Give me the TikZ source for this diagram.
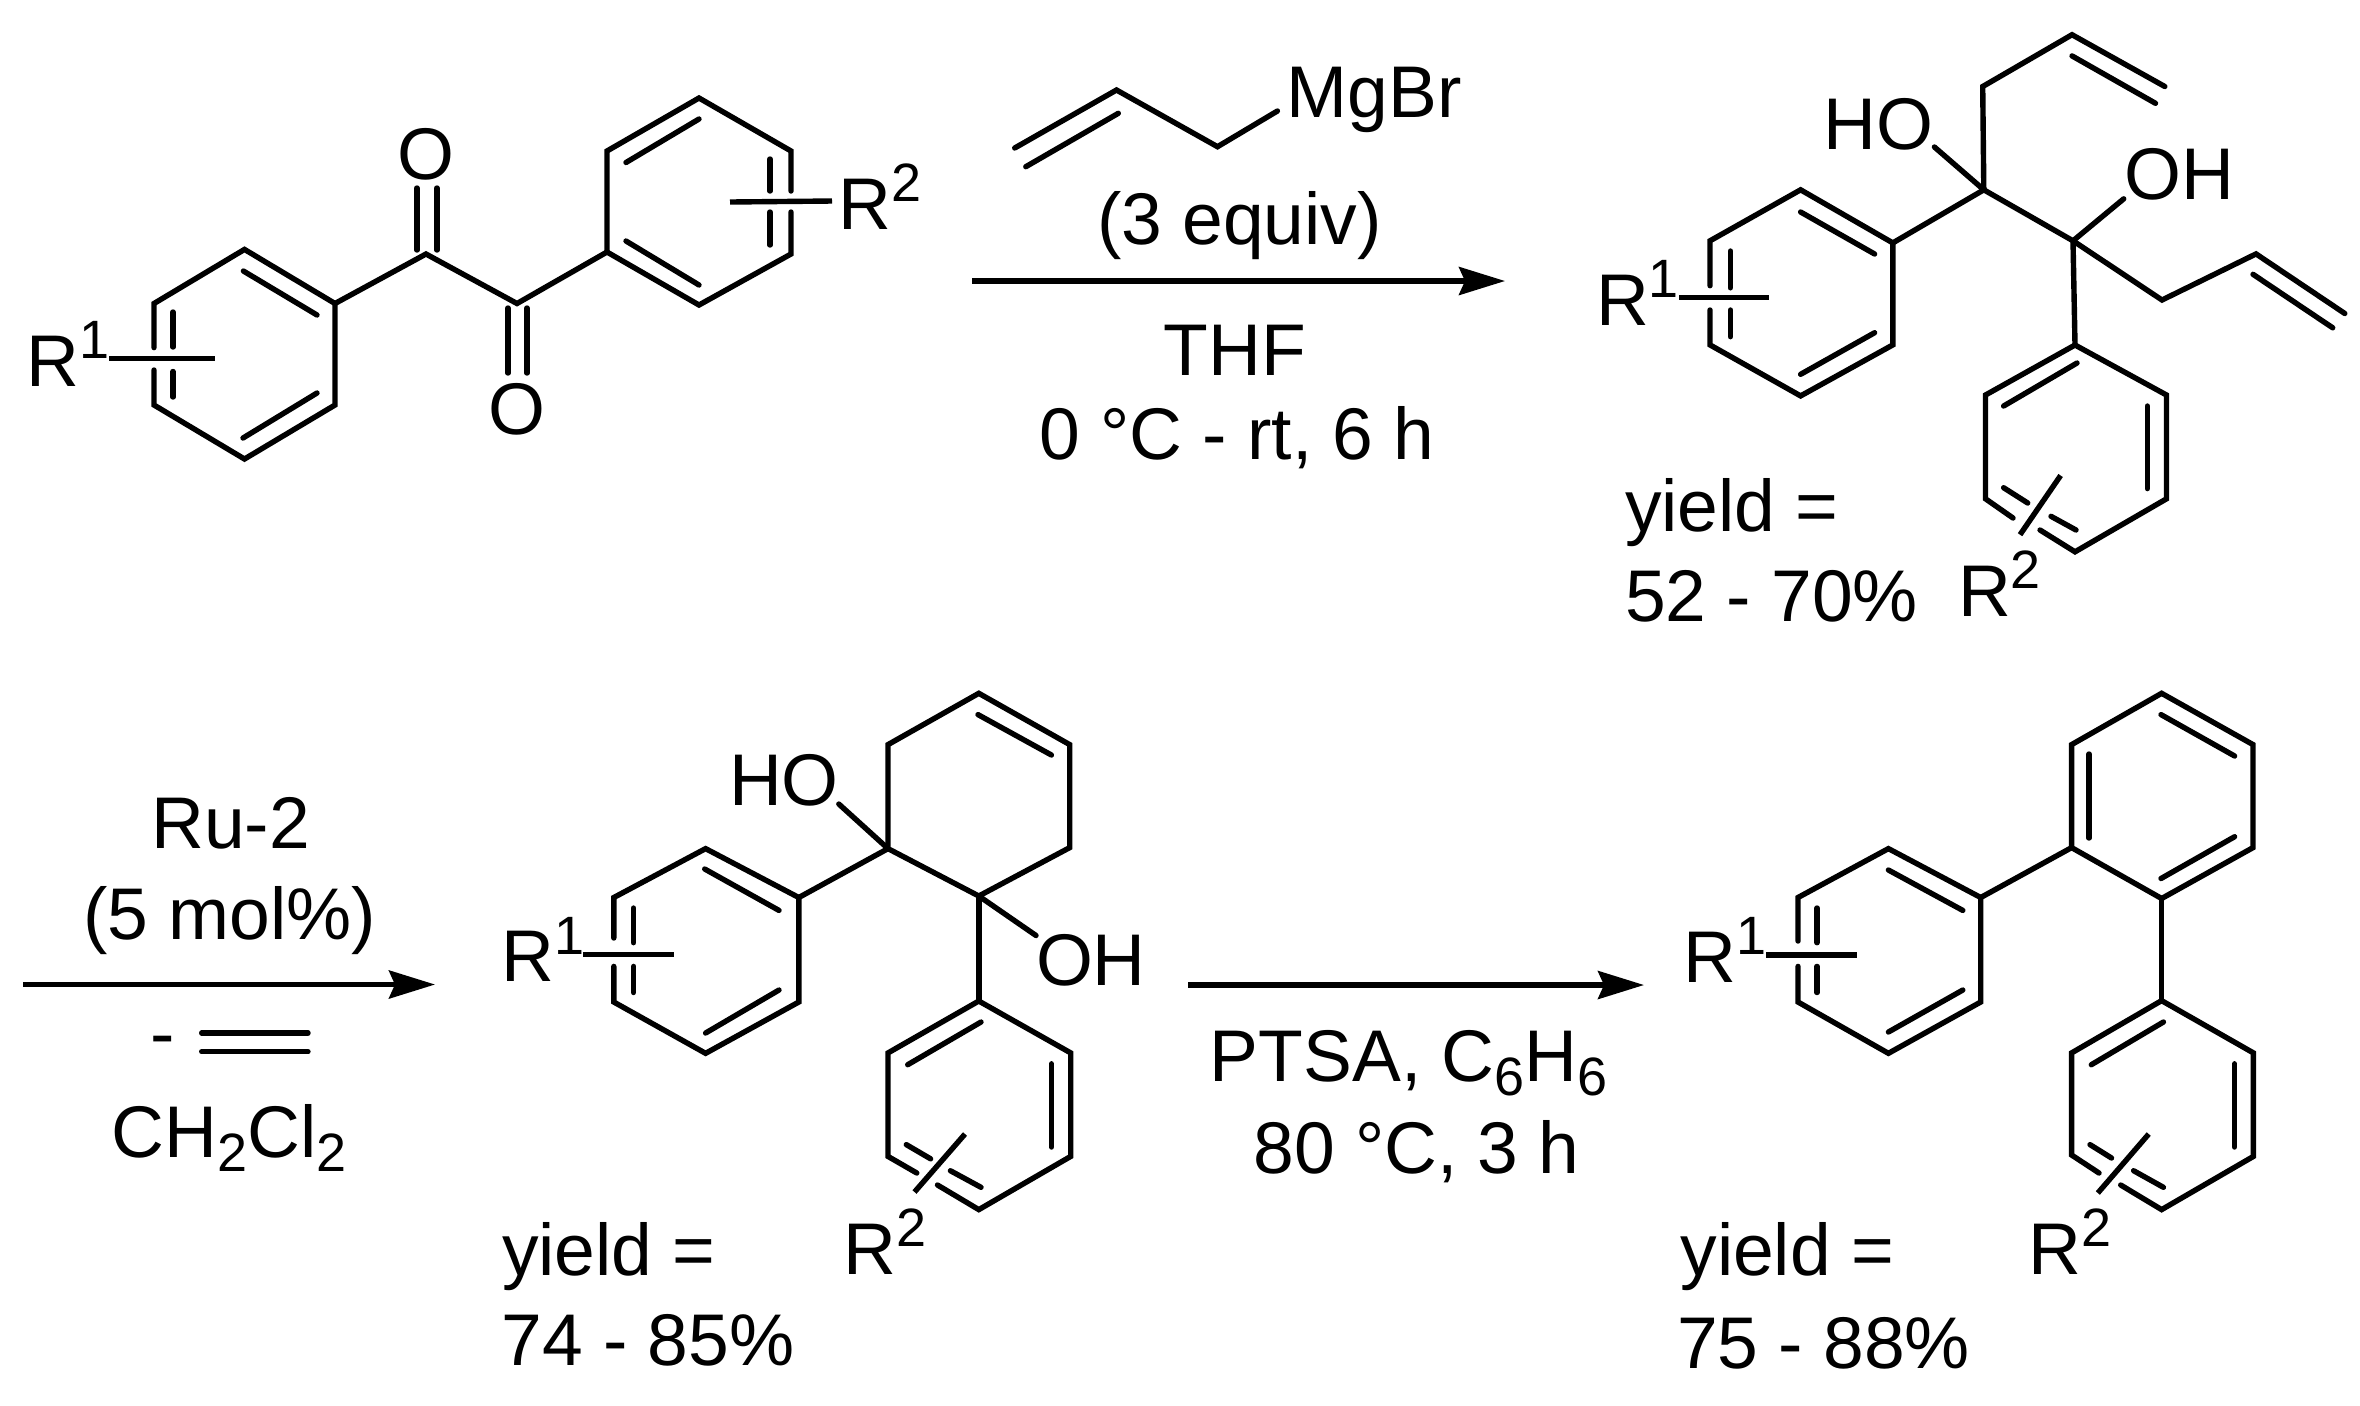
\documentclass[tikz,border=0pt]{standalone}
\usepackage{fontspec}
\setmainfont{Liberation Sans}
\usetikzlibrary{arrows.meta}
\newcommand\supn[1]{\raisebox{13.7pt}{\fontsize{27pt}{28pt}\selectfont #1}}
\newcommand\subn[1]{\raisebox{-7pt}{\fontsize{27pt}{28pt}\selectfont #1}}
\tikzset{
  bond/.style={line width=2.7pt,line cap=round,line join=miter,miter limit=10},
  rxn/.style={line width=2.6pt,-{Stealth[length=23pt,width=14pt,inset=3pt]}},
  lab/.style={inner sep=0pt,outer sep=0pt,anchor=base west,font=\fontsize{36.6pt}{40pt}\selectfont},
  ctr/.style={inner sep=0pt,outer sep=0pt,anchor=base,font=\fontsize{36.6pt}{40pt}\selectfont}
}
\begin{document}
\begin{tikzpicture}[x=0.5pt,y=-0.5pt]
\useasboundingbox[fill=white] (0,0) rectangle (2360,1405);
% ---------- starting diketone
\draw[bond] (154,347.6) -- (154,303.5) -- (244.5,249.4) -- (335,303.5) -- (335,405) -- (244.5,459) -- (154,405) -- (154,370);
\draw[bond] (243.4,271) -- (317,315);
\draw[bond] (317,393) -- (243,438);
\draw[bond] (173,312) -- (173,347);
\draw[bond] (173,371.5) -- (173,397);
\draw[bond] (335,303.5) -- (426,254) -- (517,303.5) -- (607,252);
\draw[bond] (417,188) -- (417,250);
\draw[bond] (437,188) -- (437,250);
\draw[bond] (508,308) -- (508,373);
\draw[bond] (527,308) -- (527,373);
\draw[bond] (791,191) -- (791,151) -- (699,98) -- (607,151) -- (607,252) -- (699,305) -- (791,254) -- (791,212);
\draw[bond] (699,119) -- (626,162.5);
\draw[bond] (626,241) -- (699,285);
\draw[bond] (770,159) -- (770,191);
\draw[bond] (770,212) -- (770,245);
\draw[bond,line cap=butt] (109,358.5) -- (215,358.5);
\draw[bond,line cap=butt] (730,202) -- (832,201);
\node[ctr] (smOa) at (426,179) {O};
\node[ctr] (smOb) at (517,434) {O};
\node[lab] (smRa) at (26.5,386) {R\supn{1}};
\node[lab] (smRb) at (838.5,229) {R\supn{2}};
% ---------- first arrow
\coordinate (a1s) at (972.2,281);
\coordinate (a1e) at (1505,281);
\draw[rxn] (a1s) -- (a1e);
\draw[bond] (1014.7,148) -- (1116.5,90) -- (1217.5,146.7) -- (1277.4,111);
\draw[bond] (1025.8,166.7) -- (1118.3,113.3);
\node[lab] (mgbr) at (1286.5,117) {MgBr};
\node[ctr] (equiv) at (1239.5,244) {(3 equiv)};
\node[ctr] (thf) at (1235,375) {THF};
\node[ctr] (cond1) at (1237,459) {0 °C - rt, 6 h};
% ---------- diol
\draw[bond] (1710,285.7) -- (1710,240.8) -- (1800.6,189.8) -- (1892.8,242.9) -- (1892.8,344.9) -- (1800.6,395.9) -- (1710,344.9) -- (1710,310);
\draw[bond] (1800.6,212) -- (1874.6,254);
\draw[bond] (1874.6,332.7) -- (1800.6,374.3);
\draw[bond] (1730.4,251) -- (1730.4,287.8);
\draw[bond] (1730.4,310) -- (1730.4,336.7);
\draw[bond,line cap=butt] (1679.4,297.5) -- (1768.8,297.5);
\draw[bond] (1892.8,242.9) -- (1983.8,189.8) -- (2073,240.8) -- (2075,345);
\draw[bond] (1983.8,189.8) -- (1982.7,86.5) -- (2072,34.7) -- (2164.8,86.5);
\draw[bond] (2072,55.9) -- (2155.5,103.3);
\draw[bond] (1934.4,147) -- (1983.8,189.8);
\draw[bond] (2073,240.8) -- (2123.7,198.8);
\draw[bond] (2073,240.8) -- (2162,300) -- (2256,253.9) -- (2344.8,313.5);
\draw[bond] (2253,274.3) -- (2332.7,327.8);
\draw[bond] (2013,518) -- (1985.5,498.8) -- (1985.5,395) -- (2075,345) -- (2166.5,395) -- (2166.5,498.8) -- (2075,551.8) -- (2040,530);
\draw[bond] (2003.6,406) -- (2077,363);
\draw[bond] (2147.3,406) -- (2147.3,488.6);
\draw[bond] (2003.6,487.7) -- (2027.7,503);
\draw[bond] (2051,516.3) -- (2076,530);
\draw[bond,line cap=butt] (2060.6,475.5) -- (2020,534.7);
\node[lab] (p1ho) at (1823.5,149) {HO};
\node[lab] (p1oh) at (2124.5,199) {OH};
\node[lab] (p1Ra) at (1596,325) {R\supn{1}};
\node[lab] (p1Rb) at (1958,616) {R\supn{2}};
\node[lab] (p1y) at (1625,531) {yield =};
\node[lab] (p1n) at (1625,621) {52 - 70\%};
% ---------- second arrow
\coordinate (a2s) at (23.3,984.5);
\coordinate (a2e) at (435,984.5);
\draw[rxn] (a2s) -- (a2e);
\node[ctr] (ru) at (230.5,848) {Ru-2};
\node[ctr] (mol) at (229.5,939) {(5 mol\%)};
\node[lab] (minus) at (150,1058) {-};
\draw[bond] (201.7,1033) -- (308,1033);
\draw[bond] (201.7,1051.7) -- (308,1051.7);
\node[ctr] (dcm) at (229,1157.3) {CH\subn{2}Cl\subn{2}};
% ---------- cyclohexene diol
\draw[bond] (613.8,938) -- (613.8,897.5) -- (705.6,848.6) -- (798.8,897.5) -- (798.8,1002) -- (705.6,1053.3) -- (613.8,1002) -- (613.8,966.4);
\draw[bond] (704.7,869) -- (779,910.4);
\draw[bond] (779,990) -- (705.6,1033);
\draw[bond] (633.6,908) -- (633.6,942.7);
\draw[bond] (633.6,966.4) -- (633.6,992.5);
\draw[bond,line cap=butt] (583,954.5) -- (673.5,954.5);
\draw[bond] (798.8,897.5) -- (888,848.6);
\draw[bond] (888,848.6) -- (888,744.6) -- (978.8,693.3) -- (1069.7,744.6) -- (1069.7,847.6) -- (978.8,896) -- cycle;
\draw[bond] (978,714.6) -- (1051.4,755);
\draw[bond] (838.8,804) -- (888,848.6);
\draw[bond] (978.8,896) -- (1036,935.5);
\draw[bond] (978.8,896) -- (978.8,1001);
\draw[bond] (916.8,1173) -- (888,1156.4) -- (888,1052.9) -- (978.8,1001) -- (1070.7,1052.9) -- (1070.7,1156.4) -- (978.8,1209.6) -- (937.5,1185);
\draw[bond] (907.7,1064.7) -- (981,1022);
\draw[bond] (1051.4,1063.8) -- (1051.4,1147);
\draw[bond] (906.3,1144.6) -- (930.6,1158.8);
\draw[bond] (950.4,1170.7) -- (981,1187.3);
\draw[bond,line cap=butt] (965,1134) -- (914.5,1192);
\node[lab] (p2ho) at (729,805) {HO};
\node[lab] (p2oh) at (1036,985) {OH};
\node[lab] (p2Ra) at (501.5,981.6) {R\supn{1}};
\node[lab] (p2Rb) at (843.5,1274) {R\supn{2}};
\node[lab] (p2y) at (502,1275) {yield =};
\node[lab] (p2n) at (501.5,1365.5) {74 - 85\%};
% ---------- third arrow
\coordinate (a3s) at (1188.3,985);
\coordinate (a3e) at (1644,985);
\draw[rxn] (a3s) -- (a3e);
\node[ctr] (ptsa) at (1408.8,1081) {PTSA, C\subn{6}H\subn{6}};
\node[ctr] (cond3) at (1416.5,1173) {80 °C, 3 h};
% ---------- terphenyl
\draw[bond] (1798,941) -- (1798,897.5) -- (1888.4,848.6) -- (1980.7,897.5) -- (1980.7,1002) -- (1888.4,1053.3) -- (1798,1002) -- (1798,966.4);
\draw[bond] (1888.4,870) -- (1962.8,910.4);
\draw[bond] (1962.8,990) -- (1888.4,1032);
\draw[bond] (1817,908) -- (1817,942.7);
\draw[bond] (1817,966.4) -- (1817,992.5);
\draw[bond,line cap=butt] (1766.3,955) -- (1856.7,955);
\draw[bond] (1980.7,897.5) -- (2071.6,847.6);
\draw[bond] (2071.6,847.6) -- (2071.6,744.6) -- (2161.6,693.3) -- (2253,744.6) -- (2253,847.6) -- (2161.6,898.5) -- cycle;
\draw[bond] (2089,754) -- (2089,838);
\draw[bond] (2161,714.6) -- (2234.6,756);
\draw[bond] (2234.6,836.7) -- (2161,878.5);
\draw[bond] (2161.6,898.5) -- (2161.6,1000.6);
\draw[bond] (2099,1173) -- (2071.6,1155) -- (2071.6,1052.9) -- (2161.6,1000.6) -- (2253.4,1052.9) -- (2253.4,1156.4) -- (2161.6,1209.6) -- (2120.7,1185);
\draw[bond] (2091.3,1064.7) -- (2163.4,1022);
\draw[bond] (2234.6,1063.8) -- (2234.6,1147);
\draw[bond] (2090,1144.6) -- (2111.5,1158);
\draw[bond] (2133.6,1170.7) -- (2163.4,1187.3);
\draw[bond,line cap=butt] (2148.7,1134) -- (2097.8,1193);
\node[lab] (p3Ra) at (1683.5,982) {R\supn{1}};
\node[lab] (p3Rb) at (2028.5,1274) {R\supn{2}};
\node[lab] (p3y) at (1680.4,1275) {yield =};
\node[lab] (p3n) at (1677,1368) {75 - 88\%};
\end{tikzpicture}
\end{document}
